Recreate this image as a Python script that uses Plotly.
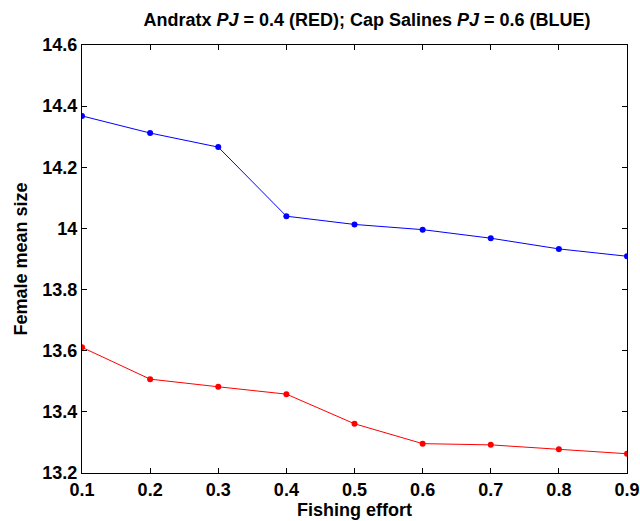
import plotly.graph_objects as go

effort = [0.1, 0.2, 0.3, 0.4, 0.5, 0.6, 0.7, 0.8, 0.9]
andratx_red = [13.611, 13.507, 13.482, 13.458, 13.361, 13.296, 13.292, 13.278, 13.263]
cap_salines_blue = [14.368, 14.312, 14.266, 14.040, 14.013, 13.996, 13.968, 13.933, 13.909]
y_ticks = [13.2, 13.4, 13.6, 13.8, 14, 14.2, 14.4, 14.6]
x_ticks = [0.1, 0.2, 0.3, 0.4, 0.5, 0.6, 0.7, 0.8, 0.9]

fig = go.Figure()
fig.add_trace(go.Scatter(x=effort, y=cap_salines_blue, mode="lines+markers",
                         line=dict(color="#0000ff", width=1),
                         marker=dict(color="#0000ff", size=6), showlegend=False))
fig.add_trace(go.Scatter(x=effort, y=andratx_red, mode="lines+markers",
                         line=dict(color="#ff0000", width=1),
                         marker=dict(color="#ff0000", size=6), showlegend=False))

font_family = "Liberation Sans, Arial, sans-serif"
fsize = 18
axis_common = dict(showgrid=False, zeroline=False, showline=True, linecolor="black",
                   linewidth=1, mirror="ticks", ticks="inside", ticklen=5,
                   tickcolor="black", automargin=False,
                   tickfont=dict(family=font_family, size=fsize, color="black", weight="bold"))

fig.update_layout(
    width=640, height=521,
    margin=dict(l=82, r=13, t=45, b=48),
    paper_bgcolor="white", plot_bgcolor="white",
    title=dict(text="Andratx <i>PJ</i> = 0.4 (RED); Cap Salines <i>PJ</i> = 0.6 (BLUE)",
               x=367 / 640, xanchor="center", y=1 - 20 / 521, yanchor="middle",
               font=dict(family=font_family, size=fsize, color="black", weight="bold")),
    xaxis=dict(range=[0.1, 0.9], tickvals=x_ticks, ticktext=[str(v) for v in x_ticks],
               title=dict(text="Fishing effort", standoff=0,
                          font=dict(family=font_family, size=fsize, color="black", weight="bold")),
               **axis_common),
    yaxis=dict(range=[13.2, 14.6], tickvals=y_ticks, ticktext=[f"{v:g}" for v in y_ticks],
               title=dict(text="Female mean size", standoff=10,
                          font=dict(family=font_family, size=fsize, color="black", weight="bold")),
               **axis_common),
)

fig.write_html("out.html")
